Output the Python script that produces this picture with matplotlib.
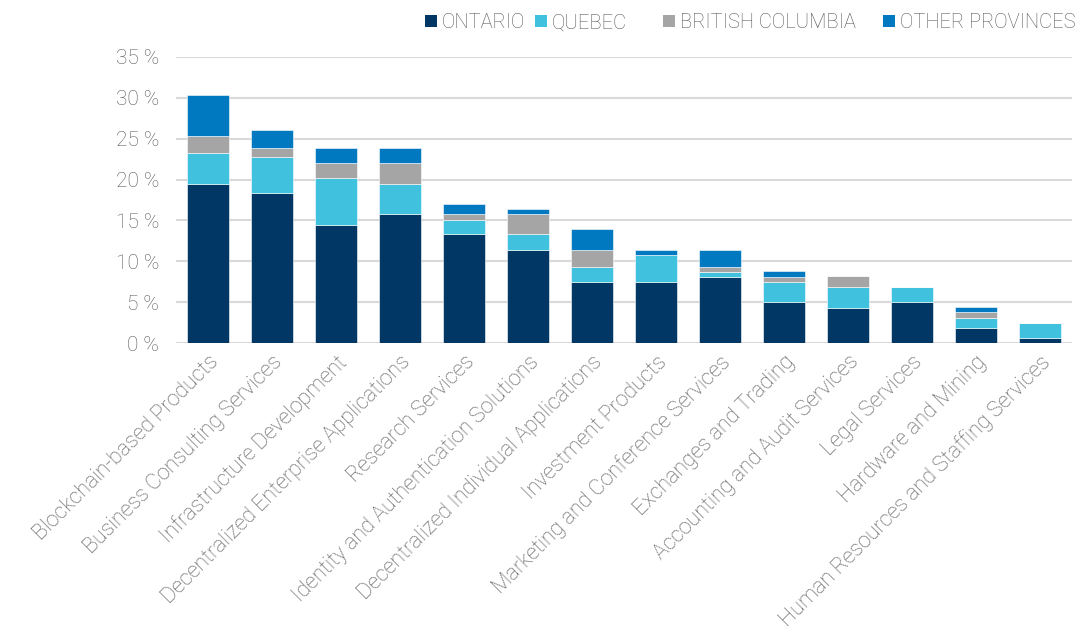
import matplotlib
matplotlib.use("Agg")
import matplotlib.pyplot as plt
from matplotlib.patches import Rectangle
from matplotlib import font_manager
import numpy as np

categories = [
    "Blockchain-based Products",
    "Business Consulting Services",
    "Infrastructure Development",
    "Decentralized Enterprise Applications",
    "Research Services",
    "Identity and Authentication Solutions",
    "Decentralized Individual Applications",
    "Investment Products",
    "Marketing and Conference Services",
    "Exchanges and Trading",
    "Accounting and Audit Services",
    "Legal Services",
    "Hardware and Mining",
    "Human Resources and Staffing Services",
]
ontario = [19.5, 18.3, 14.5, 15.8, 13.3, 11.4, 7.5, 7.5, 8.1, 5.0, 4.35, 5.0, 1.9, 0.6]
quebec = [3.8, 4.4, 5.7, 3.7, 1.8, 1.9, 1.85, 3.3, 0.65, 2.5, 2.55, 1.9, 1.25, 1.9]
british_columbia = [2.0, 1.2, 1.85, 2.55, 0.7, 2.5, 2.05, 0.0, 0.6, 0.6, 1.3, 0.0, 0.65, 0.0]
other_provinces = [5.0, 2.1, 1.85, 1.85, 1.2, 0.6, 2.5, 0.6, 2.05, 0.7, 0.0, 0.0, 0.6, 0.0]
series_names = ["ONTARIO", "QUEBEC", "BRITISH COLUMBIA", "OTHER PROVINCES"]
colors = ["#003764", "#40C1DE", "#A5A5A5", "#0079C1"]
yticks = [0, 5, 10, 15, 20, 25, 30, 35]

names = {f.name for f in font_manager.fontManager.ttflist}
family = "Roboto" if "Roboto" in names else "DejaVu Sans"
weight = "light"
txt_color = "#595959"
W, H = 1083, 635

fig = plt.figure(figsize=(10.83, 6.35), dpi=100)
ax = fig.add_axes([176 / W, 1 - 343.3 / H, (1072 - 176) / W, (343.3 - 56.7) / H])

x = np.arange(len(categories))
bottom = np.zeros(len(categories))
for vals, c in zip([ontario, quebec, british_columbia, other_provinces], colors):
    v = np.array(vals)
    ax.bar(x, v, bottom=bottom, width=0.66, color=c, edgecolor="white", linewidth=0.4, zorder=3)
    bottom += v

ax.set_xlim(-0.5, len(categories) - 0.5)
ax.set_ylim(0, 35)
ax.set_yticks(yticks)
ax.set_yticklabels([f"{t} %" for t in yticks], fontsize=15, color=txt_color,
                   fontfamily=family, fontweight=weight)
ax.yaxis.grid(True, color="#D9D9D9", linewidth=1.5, zorder=0)
ax.set_axisbelow(True)
for s in ax.spines.values():
    s.set_visible(False)
ax.tick_params(axis="both", length=0)
ax.tick_params(axis="y", pad=12)
ax.tick_params(axis="x", pad=6)
ax.set_xticks(x)
ax.set_xticklabels(categories, rotation=45, ha="right", va="top", rotation_mode="anchor",
                   fontsize=15.5, color=txt_color, fontfamily=family, fontweight=weight)

# legend, entries placed as in the reference
marker_x = [425, 535, 663, 883]
ly = 21
msz = 12
for mx, name, c in zip(marker_x, series_names, colors):
    fig.add_artist(Rectangle((mx / W, 1 - (ly + msz / 2) / H), msz / W, msz / H,
                             transform=fig.transFigure, facecolor=c, edgecolor="none"))
    fig.text((mx + msz + 5) / W, 1 - ly / H, name, ha="left", va="center_baseline",
             fontsize=14.5, color=txt_color, fontfamily=family, fontweight=weight)

fig.savefig("out.png", dpi=100, facecolor="white")
